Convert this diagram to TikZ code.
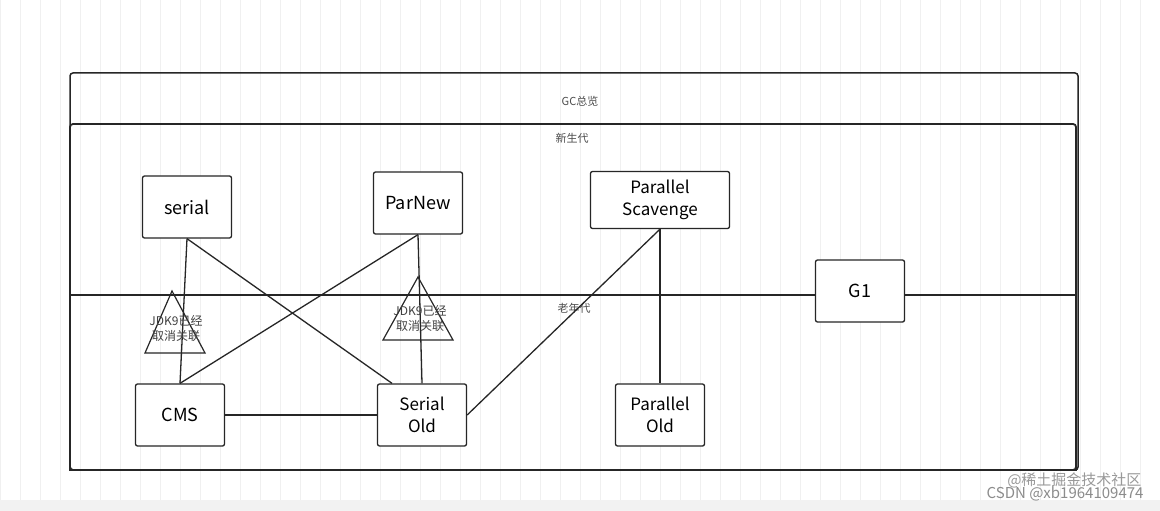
\documentclass[tikz,border=0pt]{standalone}
\usepackage{fontspec}
\setmainfont{Noto Sans CJK SC}
\begin{document}
\begin{tikzpicture}[x=1pt,y=-1pt,
 box/.style={draw=black!85,line width=1.3pt,rounded corners=2pt,fill=white,align=center,font=\fontsize{18}{21}\selectfont},
 tri/.style={draw=black!85,line width=1.2pt},
 lbl/.style={text=black!70,font=\fontsize{11}{13}\selectfont},
 ln/.style={draw=black!85,line width=1.3pt}]
\useasboundingbox (0,0) rectangle (1160,511);
\fill[white] (0,0) rectangle (1160,511);
\draw[black!6,line width=0.6pt] (0,0) grid[step=20] (1160,500);
\fill[black!5] (0,500) rectangle (1160,511);
% frames
\draw[ln,rounded corners=3pt,line width=1.5pt] (70,73) rectangle (1078,470);
\draw[ln,rounded corners=3pt,line width=1.8pt] (70,124) rectangle (1076,470);
\draw[ln,line width=2pt] (70,295) rectangle (1076,470);
\node[lbl] (t0) at (580,101) {GC总览};
\node[lbl] (t1) at (572,138) {新生代};
\node[lbl] (t2) at (574,308) {老年代};
% nodes
\node[box,minimum width=89,minimum height=62] (serial) at (187,207) {serial};
\node[box,minimum width=89,minimum height=62] (parnew) at (418,203) {ParNew};
\node[box,minimum width=139,minimum height=57,font=\fontsize{17}{22}\selectfont] (ps) at (660,200) {Parallel\\Scavenge};
\node[box,minimum width=89,minimum height=62] (g1) at (860,291) {G1};
\node[box,minimum width=89,minimum height=62] (cms) at (180,415) {CMS};
\node[box,minimum width=89,minimum height=62,font=\fontsize{17}{22}\selectfont] (so) at (422,415) {Serial\\Old};
\node[box,minimum width=89,minimum height=62,font=\fontsize{17}{22}\selectfont] (po) at (660,415) {Parallel\\Old};
% triangles
\coordinate (ta1) at (172,291);
\draw[tri] (ta1) -- (205,353) -- (145,353) -- cycle;
\coordinate (ta2) at (418,277);
\draw[tri] (ta2) -- (453,340) -- (383,340) -- cycle;
% connectors
\draw[ln] (serial.south) -- (cms.north);
\draw[ln] (serial.south) -- ([xshift=-30]so.north);
\draw[ln] (parnew.south) -- (cms.north);
\draw[ln] (parnew.south) -- (so.north);
\draw[ln] (ps.south) -- (so.east);
\draw[ln] (ps.south) -- (po.north);
\draw[ln] (cms.east) -- (so.west);
\node[lbl,align=center,font=\fontsize{12}{15}\selectfont,text=black!75] (n1) at (176,328) {JDK9已经\\取消关联};
\node[lbl,align=center,font=\fontsize{12}{15}\selectfont,text=black!75] (n2) at (420,318) {JDK9已经\\取消关联};
\node[text=black!45,font=\fontsize{15}{17}\selectfont,anchor=east] (w2) at (1147,494) {CSDN @xb1964109474};
\node[text=black!40,font=\fontsize{15}{17}\selectfont,anchor=east] (w1) at (1145,480) {@稀土掘金技术社区};
\end{tikzpicture}
\end{document}
